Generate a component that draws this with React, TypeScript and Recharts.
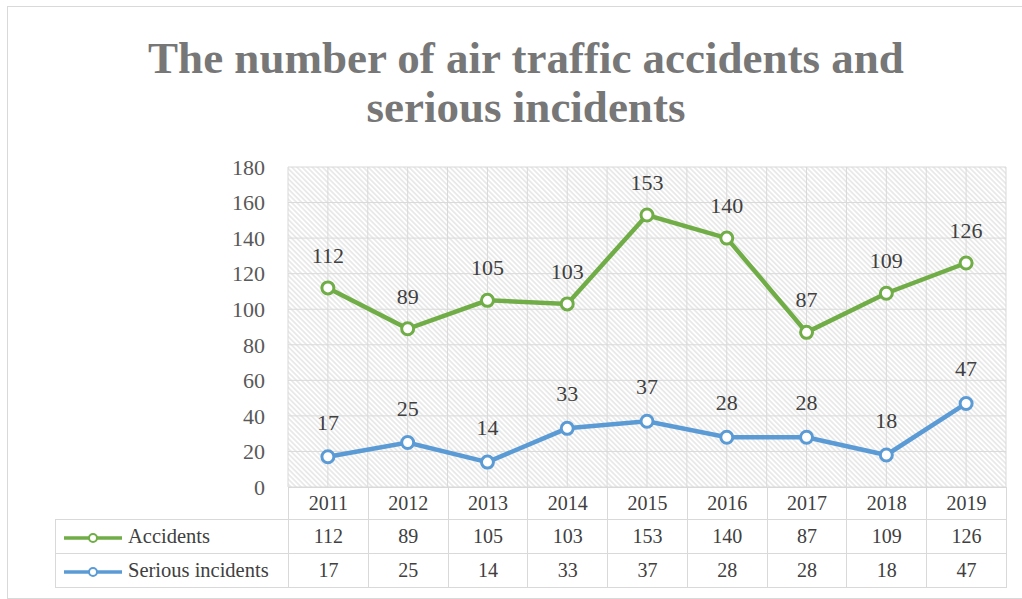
import React from "react";
import {
  ComposedChart,
  Line,
  XAxis,
  YAxis,
  CartesianGrid,
  LabelList,
} from "recharts";

const years = ["2011", "2012", "2013", "2014", "2015", "2016", "2017", "2018", "2019"];
const accidents = [112, 89, 105, 103, 153, 140, 87, 109, 126];
const seriousIncidents = [17, 25, 14, 33, 37, 28, 28, 18, 47];
const yTicks = [0, 20, 40, 60, 80, 100, 120, 140, 160, 180];

const GREEN = "#70ad47";
const BLUE = "#5b9bd5";
const SERIF = "'Liberation Serif', 'Times New Roman', serif";
const GRID = "#d9d9d9";

const data = years.map((year, i) => ({
  year,
  accidents: accidents[i],
  serious: seriousIncidents[i],
}));

const series = [
  { name: "Accidents", color: GREEN, values: accidents },
  { name: "Serious incidents", color: BLUE, values: seriousIncidents },
];

// vertical grid: one line at every half column (edges + centres)
const halfColumnLines = ({ offset }: any) =>
  Array.from({ length: years.length * 2 + 1 }, (_, i) =>
    offset.left + (offset.width * i) / (years.length * 2)
  );

function LegendKey({ color }: { color: string }) {
  return (
    <svg width={62} height={14} style={{ verticalAlign: "middle", marginRight: 4 }}>
      <line x1={2} y1={7} x2={60} y2={7} stroke={color} strokeWidth={3.5} />
      <circle cx={31} cy={7} r={4} fill="#fff" stroke={color} strokeWidth={2} />
    </svg>
  );
}

const cell: React.CSSProperties = {
  border: `1px solid ${GRID}`,
  textAlign: "center",
  padding: 0,
  fontSize: 20,
  color: "#404040",
};

export default function App() {
  return (
    <div
      style={{
        position: "absolute",
        left: 0,
        top: 0,
        width: 1022,
        height: 599,
        overflow: "hidden",
        background: "#fff",
        fontFamily: SERIF,
      }}
    >
      <div
        style={{
          position: "absolute",
          left: 7,
          top: 6,
          width: 1040,
          height: 591,
          border: `1px solid ${GRID}`,
        }}
      />
      <div
        style={{
          position: "absolute",
          left: 0,
          top: 34,
          width: 1052,
          textAlign: "center",
          fontSize: 45,
          lineHeight: "49px",
          fontWeight: "bold",
          color: "#777777",
        }}
      >
        The number of air traffic accidents and
        <br />
        serious incidents
      </div>

      <div style={{ position: "absolute", left: 0, top: 0 }}>
        <ComposedChart
          width={1022}
          height={599}
          data={data}
          margin={{ top: 167, right: 16, bottom: 112, left: 228 }}
        >
          <defs>
            <pattern
              id="hatch"
              patternUnits="userSpaceOnUse"
              width={5}
              height={3.6}
              patternTransform="rotate(45)"
            >
              <rect width={5} height={3.6} fill="#ffffff" />
              <line x1={0} y1={1.8} x2={5} y2={1.8} stroke="#dcdcdc" strokeWidth={1.1} />
            </pattern>
          </defs>
          <CartesianGrid
            stroke={GRID}
            fill="url(#hatch)"
            fillOpacity={1}
            verticalCoordinatesGenerator={halfColumnLines}
          />
          <XAxis dataKey="year" scale="band" hide />
          <YAxis
            width={60}
            domain={[0, 180]}
            ticks={yTicks}
            axisLine={false}
            tickLine={false}
            tickSize={0}
            tickMargin={23}
            tick={{ fill: "#595959", fontSize: 22, fontFamily: SERIF }}
          />
          <Line
            dataKey="accidents"
            stroke={GREEN}
            strokeWidth={4.5}
            dot={{ r: 6, fill: "#fff", stroke: GREEN, strokeWidth: 3 }}
            isAnimationActive={false}
          >
            <LabelList
              dataKey="accidents"
              position="top"
              offset={25}
              fill="#404040"
              fontSize={22}
              fontFamily={SERIF}
            />
          </Line>
          <Line
            dataKey="serious"
            stroke={BLUE}
            strokeWidth={4.5}
            dot={{ r: 6, fill: "#fff", stroke: BLUE, strokeWidth: 3 }}
            isAnimationActive={false}
          >
            <LabelList
              dataKey="serious"
              position="top"
              offset={27}
              fill="#404040"
              fontSize={22}
              fontFamily={SERIF}
            />
          </Line>
        </ComposedChart>
      </div>

      {/* data table under the plot */}
      <table
        style={{
          position: "absolute",
          left: 55,
          top: 487,
          width: 952,
          borderCollapse: "collapse",
          tableLayout: "fixed",
          fontFamily: SERIF,
        }}
      >
        <colgroup>
          <col style={{ width: 233 }} />
          {years.map((y) => (
            <col key={y} style={{ width: 718 / years.length }} />
          ))}
        </colgroup>
        <tbody>
          <tr style={{ height: 32 }}>
            <td style={{ padding: 0 }} />
            {years.map((y) => (
              <td key={y} style={cell}>
                {y}
              </td>
            ))}
          </tr>
          {series.map((s) => (
            <tr key={s.name} style={{ height: 34 }}>
              <td
                style={{
                  ...cell,
                  textAlign: "left",
                  paddingLeft: 6,
                  fontSize: 20.5,
                  whiteSpace: "nowrap",
                }}
              >
                <LegendKey color={s.color} />
                {s.name}
              </td>
              {s.values.map((v, i) => (
                <td key={i} style={cell}>
                  {v}
                </td>
              ))}
            </tr>
          ))}
        </tbody>
      </table>
    </div>
  );
}
